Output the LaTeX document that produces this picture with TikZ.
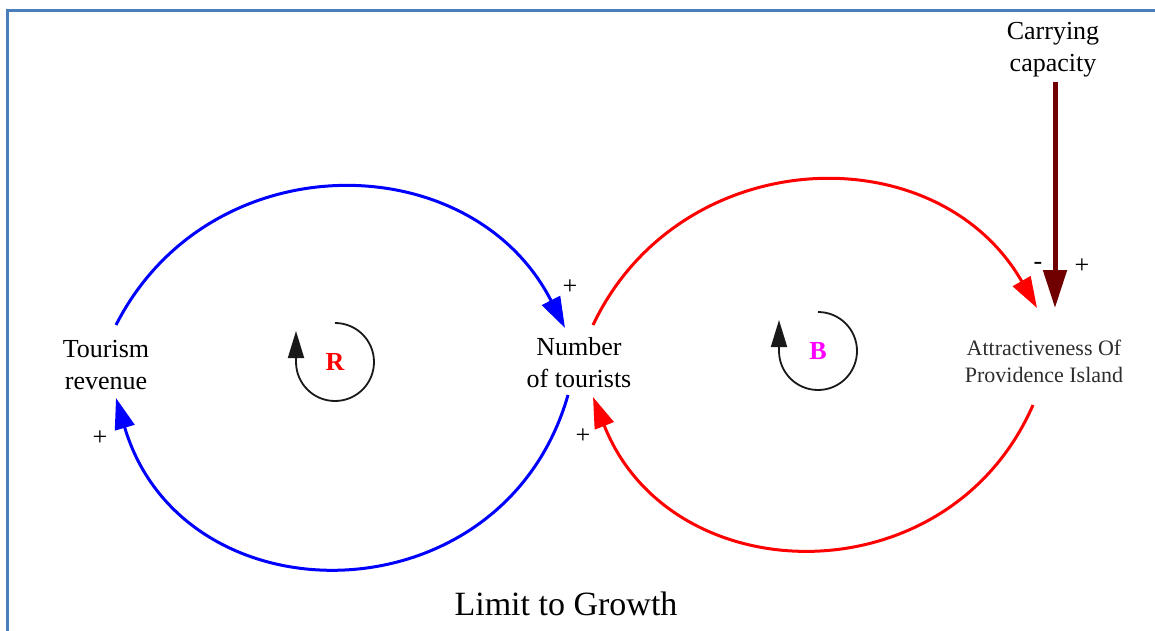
\documentclass[tikz,border=0pt]{standalone}
\usepackage{fontspec}
\setmainfont{Liberation Serif}
\usetikzlibrary{arrows.meta}
\definecolor{frameblue}{RGB}{74,126,187}
\definecolor{capbrown}{RGB}{112,0,0}
\definecolor{attrgray}{RGB}{45,45,45}
\definecolor{loopmag}{RGB}{255,0,255}
\definecolor{linkred}{RGB}{255,0,0}
\definecolor{linkblue}{RGB}{0,0,255}
\begin{document}
\begin{tikzpicture}[x=1pt,y=1pt,
  lbl/.style={align=center,font=\fontsize{26}{32}\selectfont,inner sep=0pt},
  attr/.style={align=center,font=\fontsize{22}{27}\selectfont,text=attrgray,inner sep=0pt},
  sign/.style={font=\fontsize{26}{28}\selectfont,inner sep=0pt},
  link/.style={line width=3pt},
  tiplink/.style={-{Triangle[length=31pt,width=20pt]}},
  looparc/.style={line width=1.8pt,black!90,-{Triangle[length=27pt,width=16pt]}},
  looplbl/.style={font=\fontsize{26}{28}\selectfont\bfseries,inner sep=0pt}]
\useasboundingbox (0,0) rectangle (1155,630);
% frame
\draw[frameblue,line width=3pt] (7,-5) -- (7,619) -- (1160,619);
% nodes
\node[lbl] (tr) at (106,265) {Tourism\\revenue};
\node[lbl] (nt) at (579,267) {Number\\of tourists};
\node[attr] (ap) at (1044,269) {Attractiveness Of\\Providence Island};
\node[lbl] (cc) at (1053,580) {Carrying\\capacity};
\node[font=\fontsize{34}{40}\selectfont,inner sep=0pt] (title) at (566,26) {Limit to Growth};
% loop labels
\node[looplbl,text=linkred] (R) at (335,268) {R};
\node[looplbl,text=loopmag] (B) at (818,279) {B};
% loop icons
\draw[looparc] ([yshift=39]R.center) arc[start angle=90,end angle=-180,radius=39] -- ++(0,31);
\draw[looparc] ([yshift=39]B.center) arc[start angle=90,end angle=-180,radius=39] -- ++(0,31);
% blue links
\draw[link,linkblue,tiplink] ([shift={(10,40)}]tr.center) .. controls +(63:206) and +(117:206) .. ([shift={(-14,35)}]nt.center);
\draw[link,linkblue,tiplink] ([shift={(-11,-32)}]nt.center) .. controls +(-106:236) and +(-73.5:236) .. ([shift={(10,-33)}]tr.center);
% red links
\draw[link,linkred,tiplink] ([shift={(14,38)}]nt.center) .. controls +(64.6:202) and +(119.8:202) .. ([shift={(-7,53)}]ap.center);
\draw[link,linkred,tiplink] ([shift={(-11,-44)}]ap.center) .. controls +(-113.6:212) and +(-68.5:212) .. ([shift={(14,-34)}]nt.center);
% carrying capacity link
\draw[line width=5pt,capbrown,-{Triangle[length=38pt,width=23pt]}] ([shift={(2,-32)}]cc.center) -- ([shift={(11,53)}]ap.center);
% polarity signs
\node[sign] (s1) at (570,343) {+};
\node[sign] (s2) at (100,192) {+};
\node[sign] (s3) at (583,194) {+};
\node[sign] (s4) at (1038,364) {-};
\node[sign] (s5) at (1082,364) {+};
\end{tikzpicture}
\end{document}
